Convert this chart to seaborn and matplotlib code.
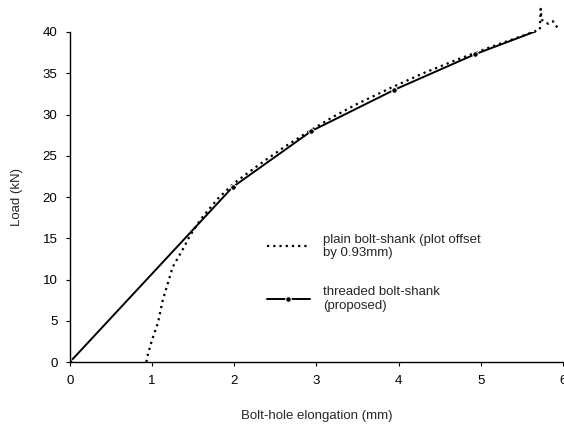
import matplotlib
matplotlib.use("Agg")
import matplotlib.pyplot as plt
import seaborn as sns
import pandas as pd

# Data
plain_x = [0.93, 0.95, 1.00, 1.07, 1.13, 1.19, 1.25, 1.37, 1.46, 1.60, 1.80, 2.00,
           2.30, 2.60, 2.90, 3.20, 3.50, 3.90, 4.30, 4.70, 5.10, 5.50, 5.72,
           5.73, 5.74, 5.82, 5.88, 5.95]
plain_y = [0.0, 1.0, 2.7, 4.7, 7.5, 9.5, 11.5, 13.6, 15.3, 17.4, 19.8, 21.7,
           23.9, 26.0, 27.9, 29.7, 31.3, 33.2, 35.0, 36.6, 38.1, 39.5, 40.3,
           42.8, 41.5, 41.0, 41.3, 40.3]
thread_x = [0.0, 1.98, 2.94, 3.95, 4.93, 5.70]
thread_y = [0.0, 21.2, 28.0, 33.0, 37.3, 40.2]

plain_label = "plain bolt-shank (plot offset\nby 0.93mm)"
thread_label = "threaded bolt-shank\n(proposed)"
x_ticks = [0, 1, 2, 3, 4, 5, 6]
y_ticks = [0, 5, 10, 15, 20, 25, 30, 35, 40]

sns.set_style("ticks")
plt.rcParams['font.family'] = ['Liberation Sans', 'DejaVu Sans']
plt.rcParams['font.size'] = 9.5

fig = plt.figure(figsize=(5.64, 4.30), dpi=100)
ax = fig.add_axes([0.124, 0.158, 0.874, 0.7676])

df_p = pd.DataFrame({"x": plain_x, "y": plain_y})
df_t = pd.DataFrame({"x": thread_x, "y": thread_y})

sns.lineplot(data=df_p, x="x", y="y", sort=False, ax=ax, color="black",
             linestyle=(0, (1.0, 1.8)), linewidth=1.6, label=plain_label,
             clip_on=False)
sns.lineplot(data=df_t, x="x", y="y", sort=False, ax=ax, color="black",
             linewidth=1.4, marker="o", markersize=4, markevery=[0, 1, 2, 3, 4],
             label=thread_label)

ax.set_xlim(0, 6)
ax.set_ylim(0, 40)
ax.set_xticks(x_ticks)
ax.set_yticks(y_ticks)
ax.set_xlabel("Bolt-hole elongation (mm)", fontsize=9.5, labelpad=17)
ax.set_ylabel("Load (kN)", fontsize=9.5, labelpad=14)
ax.tick_params(axis="both", direction="out", length=3, width=0.8,
               labelsize=9.5, colors="black", pad=6)
for s in ["top", "right"]:
    ax.spines[s].set_visible(False)
for s in ["left", "bottom"]:
    ax.spines[s].set_linewidth(1.0)
    ax.spines[s].set_color("black")

leg = ax.legend(loc="upper left", bbox_to_anchor=(0.375, 0.425), frameon=False,
                fontsize=9.5, handlelength=3.3, handletextpad=1.0,
                labelspacing=2.0)

fig.savefig("out.png", dpi=100)
